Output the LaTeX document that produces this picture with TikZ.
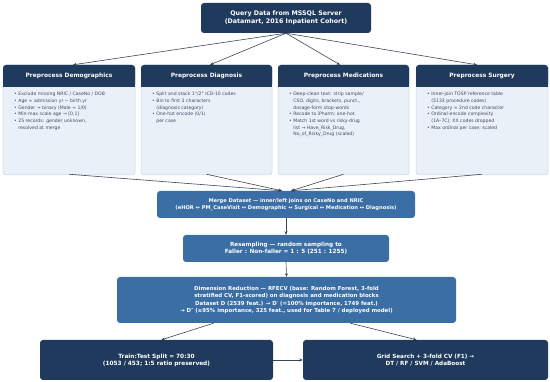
\documentclass[tikz,border=0pt]{standalone}
\usepackage{fontspec}
\setmainfont{DejaVu Sans}
\usetikzlibrary{arrows.meta}
\definecolor{navy}{HTML}{1F3A5C}
\definecolor{midblue}{HTML}{3A6EA5}
\definecolor{pale}{HTML}{E9F0F8}
\definecolor{paleedge}{HTML}{C8D5E5}
\definecolor{bodytext}{HTML}{3E4C5E}
\definecolor{arrowc}{HTML}{3A4654}
\tikzset{
  box/.style={rounded corners=3pt, inner sep=0pt, align=center, text=white,
    font=\fontsize{5.2}{7.4}\selectfont\bfseries},
  navybox/.style={box, fill=navy},
  bluebox/.style={box, fill=midblue},
  colbody/.style={rounded corners=3pt, fill=pale, draw=paleedge, line width=0.5pt,
    minimum width=#1, minimum height=110pt, inner sep=0pt},
  hdr/.style={fill=navy, rounded corners=3pt, text=white, inner sep=0pt,
    minimum width=#1, minimum height=22pt, font=\fontsize{5.9}{7}\selectfont\bfseries},
  list/.style={anchor=north west, align=left, text=bodytext, inner sep=0pt,
    font=\fontsize{4.6}{6.7}\selectfont},
  conn/.style={draw=arrowc, line width=0.6pt, -{Stealth[length=3.5pt,width=3pt]}}
}
\newcommand{\ind}{\hphantom{• }}
\begin{document}
\begin{tikzpicture}[x=1pt,y=1pt]
\useasboundingbox (0,0) rectangle (550,-382);

\node[navybox, minimum width=170pt, minimum height=30pt, font=\fontsize{6.3}{8.4}\selectfont\bfseries]
  (q) at (286,-18) {Query Data from MSSQL Server\\(Datamart, 2016 Inpatient Cohort)};

% columns
\node[colbody=132pt] (bdem) at (69,-120) {};
\node[colbody=131pt] (bdia) at (206.5,-120) {};
\node[colbody=131pt] (bmed) at (343.5,-120) {};
\node[colbody=132pt] (bsur) at (482,-120) {};

\node[hdr=132pt] (hdem) at (69,-76) {Preprocess Demographics};
\node[hdr=131pt] (hdia) at (206.5,-76) {Preprocess Diagnosis};
\node[hdr=131pt] (hmed) at (343.5,-76) {Preprocess Medications};
\node[hdr=132pt] (hsur) at (482,-76) {Preprocess Surgery};
\foreach \h in {hdem,hdia,hmed,hsur}
  \fill[navy] (\h.south west) rectangle ([yshift=4pt]\h.south east);

\node[list] (ldem) at (14,-92) {• Exclude missing NRIC / CaseNo / DOB\\
• Age = admission yr − birth yr\\
• Gender → binary (Male = 1/0)\\
• Min-max scale age → [0,1]\\
• 25 records: gender unknown,\\
\ind resolved at merge};

\node[list] (ldia) at (152,-92) {• Split and stack 1°/2° ICD-10 codes\\
• Bin to first 3 characters\\
\ind (diagnosis category)\\
• One-hot encode (0/1)\\
\ind per case};

\node[list] (lmed) at (289,-92) {• Deep-clean text: strip sample/\\
\ind CSO, digits, brackets, punct.,\\
\ind dosage-form stop-words\\
• Recode to iPharm; one-hot\\
• Match 1st word vs risky-drug\\
\ind list → Have\_Risk\_Drug,\\
\ind No\_of\_Risky\_Drug (scaled)};

\node[list] (lsur) at (427,-92) {• Inner-join TOSP reference table\\
\ind (5133 procedure codes)\\
• Category = 2nd code character\\
• Ordinal-encode complexity\\
\ind (1A–7C); XX codes dropped\\
• Max ordinal per case; scaled};

% pipeline
\node[bluebox, minimum width=258pt, minimum height=27pt, font=\fontsize{5.15}{7.6}\selectfont\bfseries] (merge) at (286,-204.5)
  {Merge Dataset — inner/left joins on CaseNo and NRIC\\(eHOR ↔ PM\_CaseVisit ↔ Demographic ↔ Surgical ↔ Medication ↔ Diagnosis)};
\node[bluebox, minimum width=206pt, minimum height=27pt, font=\fontsize{5.7}{6.9}\selectfont\bfseries] (res) at (286,-248.5)
  {Resampling — random sampling to\\Faller : Non-faller = 1 : 5 (251 : 1255)};
\node[bluebox, minimum width=339pt, minimum height=46pt, font=\fontsize{5.4}{7.1}\selectfont\bfseries] (dr) at (286.5,-300)
  {Dimension Reduction — RFECV (base: Random Forest, 3-fold\\
   stratified CV, F1-scored) on diagnosis and medication blocks\\
   Dataset D (2539 feat.) → D′ (=100\% importance, 1749 feat.)\\
   → D″ (≥95\% importance, 325 feat., used for Table 7 / deployed model)};
\node[navybox, minimum width=233pt, minimum height=40pt, font=\fontsize{5.8}{7}\selectfont\bfseries] (tt) at (156.5,-360)
  {Train:Test Split = 70:30\\(1053 / 453; 1:5 ratio preserved)};
\node[navybox, minimum width=245pt, minimum height=40pt, font=\fontsize{5.7}{7}\selectfont\bfseries] (gs) at (425.5,-360)
  {Grid Search + 3-fold CV (F1) →\\DT / RF / SVM / AdaBoost};

% connectors
\draw[conn] (q.south) -- ([xshift=4pt]hdem.north);
\draw[conn] (q.south) -- ([xshift=3.5pt]hdia.north);
\draw[conn] (q.south) -- ([xshift=-3.5pt]hmed.north);
\draw[conn] (q.south) -- ([xshift=-5pt]hsur.north);

\draw[conn] ([yshift=1pt]bdem.south) -- ([xshift=-4pt]merge.north);
\draw[conn] ([yshift=1pt]bdia.south) -- ([xshift=-4pt]merge.north);
\draw[conn] ([yshift=1pt]bmed.south) -- ([xshift=5pt]merge.north);
\draw[conn] ([yshift=1pt]bsur.south) -- ([xshift=5pt]merge.north);

\draw[conn] (merge.south) -- (res.north);
\draw[conn] (res.south) -- (dr.north);
\draw[conn] ([xshift=-73pt]dr.south) -- ([xshift=5pt]tt.north);
\draw[conn] ([xshift=64pt]dr.south) -- ([xshift=-9pt]gs.north);
\draw[conn] (tt.east) -- (gs.west);
\end{tikzpicture}
\end{document}
